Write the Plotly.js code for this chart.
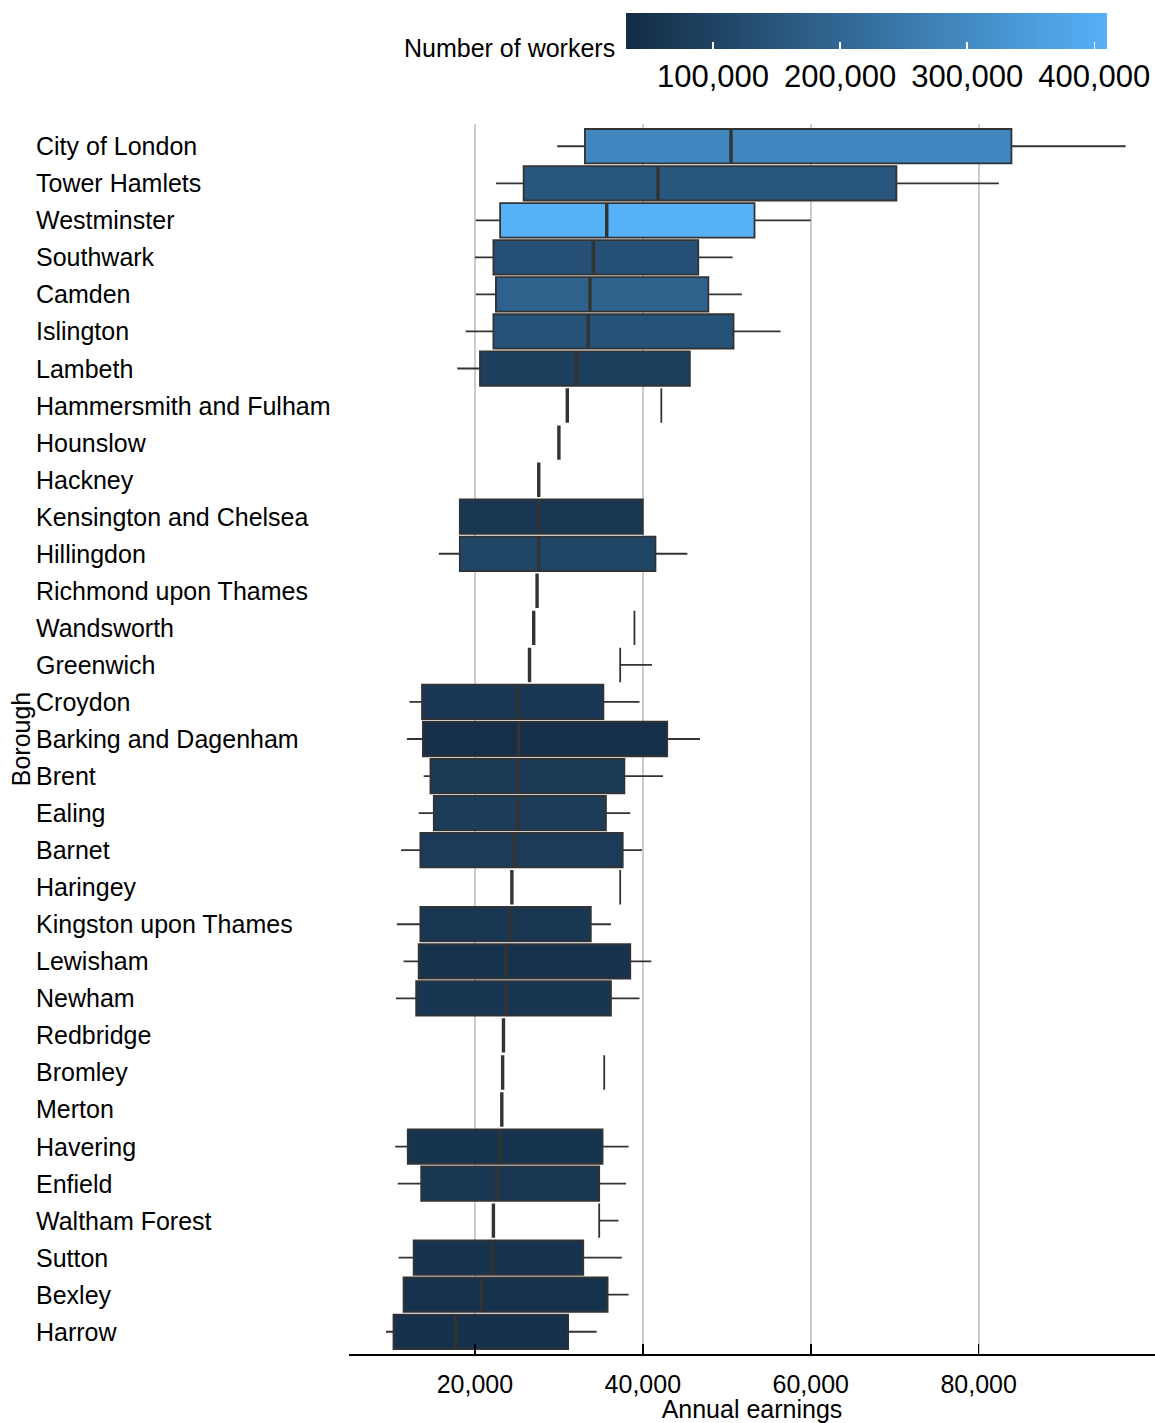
<!DOCTYPE html>
<html><head><meta charset="utf-8">
<script src="https://cdn.plot.ly/plotly-3.0.1.min.js"></script>
<style>html,body{margin:0;padding:0;background:#fff;overflow:hidden}#chart{width:1155px;height:1423px}</style>
</head><body><div id="chart"></div>
<script>
const boroughs=["City of London","Tower Hamlets","Westminster","Southwark","Camden","Islington","Lambeth","Hammersmith and Fulham","Hounslow","Hackney","Kensington and Chelsea","Hillingdon","Richmond upon Thames","Wandsworth","Greenwich","Croydon","Barking and Dagenham","Brent","Ealing","Barnet","Haringey","Kingston upon Thames","Lewisham","Newham","Redbridge","Bromley","Merton","Havering","Enfield","Waltham Forest","Sutton","Bexley","Harrow"];
const lower=[29800,22500,20100,20000,20100,18900,17900,31000,30000,27600,18200,15700,27400,27000,26500,12200,11900,13900,13300,11200,24400,10700,11500,10600,23400,23300,23200,10500,10800,22200,10900,11500,9400];
const q1=[33100,25800,23000,22200,22500,22200,20600,31000,30000,27600,18200,18200,27400,27000,26500,13700,13800,14700,15100,13500,24400,13500,13300,13000,23400,23300,23200,12000,13600,22200,12700,11500,10300];
const median=[50500,41800,35700,34100,33700,33500,32100,31000,30000,27600,27600,27600,27400,27000,26500,25200,25200,25200,25100,24700,24400,24300,23700,23700,23400,23300,23200,23000,22600,22200,22100,20800,17700];
const q3=[83900,70200,53300,46600,47800,50800,45600,42200,30000,27600,40000,41500,27400,39000,37300,35300,42900,37800,35600,37600,37300,33800,38500,36200,23400,35400,23200,35200,34800,34800,32900,35800,31100];
const upper=[97500,82400,60000,50700,51800,56400,45600,42200,30000,27600,40000,45300,27400,39000,41100,39600,46800,42400,38500,39900,37300,36200,41000,39600,23400,35400,23200,38300,38000,37100,37500,38300,34500];
const workers=[292000,152000,410000,134000,183000,141000,88000,null,null,null,66000,107000,null,null,null,69000,43000,70000,80000,77000,null,66000,50000,62000,null,null,null,56000,66000,null,55000,50000,48000];
const xTickVals=[20000,40000,60000,80000];
const xTickText=["20,000","40,000","60,000","80,000"];
const cbTickVals=[100000,200000,300000,400000];
const cbTickText=["100,000","200,000","300,000","400,000"];

const FONT='Arial, "Liberation Sans", sans-serif';
const cmin=31500,cmax=410000;
const lowC=[19,43,67],highC=[86,177,247];
function fillFor(w){const t=Math.max(0,Math.min(1,(w-cmin)/(cmax-cmin)));const c=lowC.map((v,i)=>Math.round(v+t*(highC[i]-v)));return 'rgb('+c.join(',')+')';}
const LC='#333333';
const traces=[];
boroughs.forEach((b,i)=>{
  const base={type:'box',orientation:'h',y:[b],width:0.93,hoverinfo:'skip',showlegend:false,boxpoints:false,whiskerwidth:0};
  if(workers[i]!==null){
    traces.push(Object.assign({},base,{q1:[q1[i]],median:[median[i]],q3:[q3[i]],lowerfence:[lower[i]],upperfence:[upper[i]],fillcolor:fillFor(workers[i]),line:{color:LC,width:1.8}}));
  } else if(q3[i]>median[i]){
    traces.push(Object.assign({},base,{q1:[q3[i]],median:[q3[i]],q3:[q3[i]],lowerfence:[q3[i]],upperfence:[upper[i]],fillcolor:'rgba(0,0,0,0)',line:{color:LC,width:1.8}}));
  }
  traces.push(Object.assign({},base,{q1:[median[i]],median:[median[i]],q3:[median[i]],lowerfence:[median[i]],upperfence:[median[i]],fillcolor:'rgba(0,0,0,0)',line:{color:LC,width:3.4}}));
});
const wk=workers.filter(v=>v!==null);
traces.push({type:'scatter',mode:'markers',x:wk.map(()=>null),y:wk.map(()=>null),hoverinfo:'skip',showlegend:false,
  marker:{color:wk,cmin:cmin,cmax:cmax,colorscale:[[0,'#132B43'],[1,'#56B1F7']],showscale:true,
    colorbar:{orientation:'h',x:(626-349)/806,xanchor:'left',y:(1354-13)/1230,yanchor:'top',thickness:36,thicknessmode:'pixels',len:481,lenmode:'pixels',
      outlinewidth:0,xpad:0,ypad:0,tickvals:cbTickVals,ticktext:cbTickText,ticks:'inside',ticklen:7,tickwidth:1.5,tickcolor:'#ffffff',
      ticklabelstandoff:-6,tickfont:{family:FONT,size:31,color:'#000'}}}});

const annotations=boroughs.map(b=>({xref:'paper',yref:'y',x:(34-349)/806,y:b,xanchor:'left',yanchor:'middle',text:b,showarrow:false,font:{family:FONT,size:25,color:'#000'}}));
annotations.push({xref:'paper',yref:'paper',x:(617-349)/806,y:(1354-48)/1230,xanchor:'right',yanchor:'middle',text:'Number of workers',showarrow:false,font:{family:FONT,size:25,color:'#000'}});

const layout={width:1155,height:1423,margin:{l:349,r:0,t:124,b:69},paper_bgcolor:'#fff',plot_bgcolor:'#fff',
  font:{family:FONT,color:'#000',size:25},showlegend:false,boxmode:'overlay',
  xaxis:{range:[5000,101000],tickvals:xTickVals,ticktext:xTickText,showgrid:true,gridcolor:'#cccccc',gridwidth:2.2,zeroline:false,
    showline:true,linecolor:'#000',linewidth:1.5,ticks:'inside',ticklen:10,tickwidth:1.5,tickcolor:'#000',tickfont:{size:25,color:'#000'},
    ticklabelstandoff:7,title:{text:'Annual earnings',font:{size:25,color:'#000'},standoff:4},fixedrange:true},
  yaxis:{type:'category',categoryorder:'array',categoryarray:boroughs,range:[32.6,-0.6],showticklabels:false,showgrid:false,zeroline:false,
    showline:false,ticks:'',title:{text:'Borough',font:{size:25,color:'#000'},standoff:310},fixedrange:true},
  annotations:annotations};
Plotly.newPlot('chart',traces,layout,{displayModeBar:false,staticPlot:true});
</script></body></html>
